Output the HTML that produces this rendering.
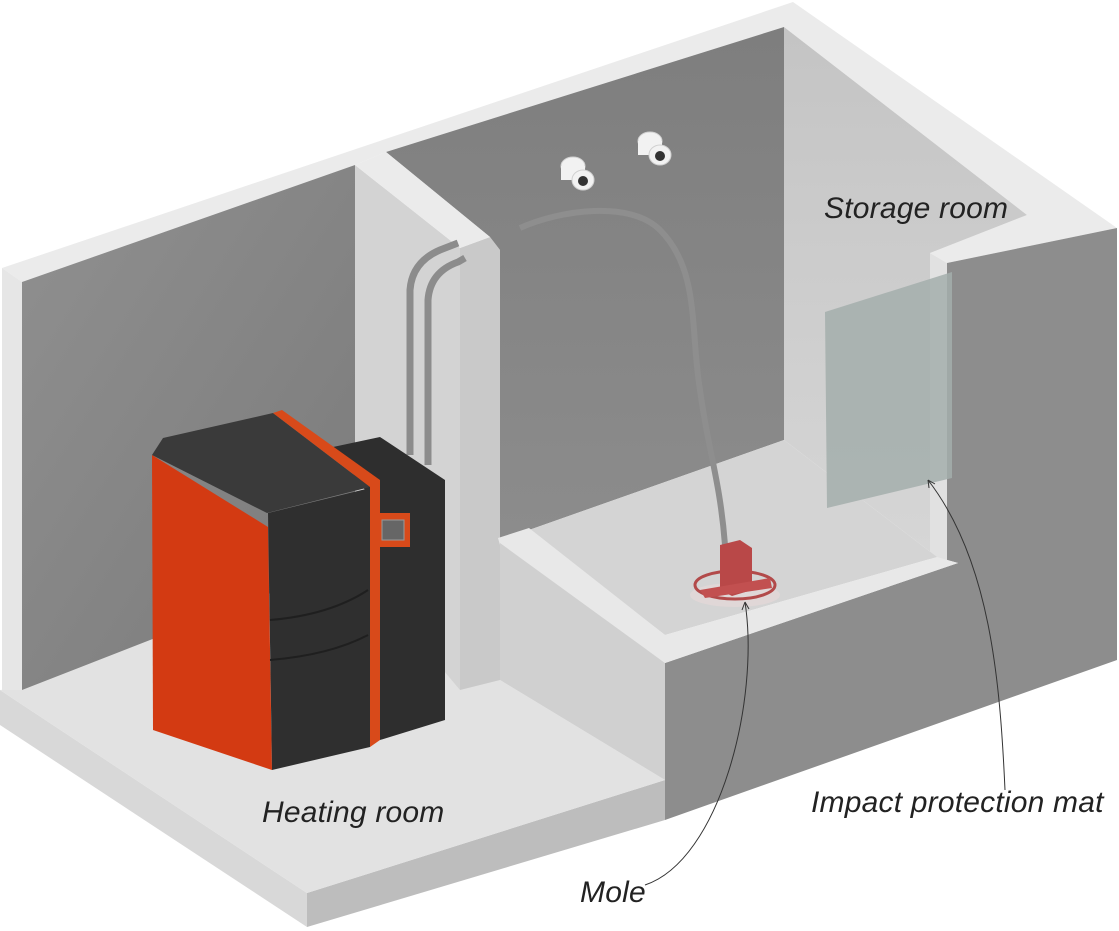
<!DOCTYPE html>
<html><head><meta charset="utf-8"><style>
html,body{margin:0;padding:0;background:#fff;width:1119px;height:931px;overflow:hidden}
svg{display:block}
text{font-family:"Liberation Sans",sans-serif;font-style:italic;fill:#222;font-size:30px;letter-spacing:0.2px}
</style></head><body>
<svg width="1119" height="931" viewBox="0 0 1119 931" xmlns="http://www.w3.org/2000/svg">
<defs>
<linearGradient id="dk" x1="0" y1="0" x2="1" y2="1"><stop offset="0" stop-color="#909090"/><stop offset="1" stop-color="#7a7a7a"/></linearGradient>
<linearGradient id="dk2" x1="0" y1="0" x2="0" y2="1"><stop offset="0" stop-color="#7e7e7e"/><stop offset="1" stop-color="#8c8c8c"/></linearGradient>
<linearGradient id="lt" x1="0" y1="0" x2="0" y2="1"><stop offset="0" stop-color="#c4c4c4"/><stop offset="1" stop-color="#d6d6d6"/></linearGradient>
</defs>
<!-- rim background -->
<polygon points="2,268 793,2 1117,228 947,263 930,253 1027,215 784,27 386,152 355,165 22,282" fill="#ebebeb"/>
<!-- base slab -->
<polygon points="0,690 307,893 307,927 0,725" fill="#d8d8d8"/>
<polygon points="307,893 665,780 665,820 307,927" fill="#bdbdbd"/>
<!-- right outer wall face -->
<polygon points="947,263 1117,228 1117,660 665,820 665,663 958,563 947,560" fill="#8d8d8d"/>
<!-- heating floor -->
<polygon points="0,690 22,688 355,560 500,680 665,780 307,893" fill="#e2e2e2"/>
<!-- left wall -->
<polygon points="2,268 22,282 22,690 2,690" fill="#e6e6e6"/>
<polygon points="22,282 355,165 355,560 22,690" fill="url(#dk)"/>
<!-- partition -->
<polygon points="355,165 460,248 460,690 355,565" fill="#d3d3d3"/>
<polygon points="460,248 490,237 500,250 500,680 460,690" fill="#c9c9c9"/>
<!-- storage back wall -->
<polygon points="386,152 784,27 784,440 529,530 500,540 500,250 490,237" fill="url(#dk2)"/>
<!-- partition top -->
<polygon points="355,165 386,152 490,237 460,248" fill="#ebebeb"/>
<!-- right storage inner wall -->
<polygon points="784,27 1027,215 930,253 930,557 937,557 784,440" fill="url(#lt)"/>
<polygon points="930,253 947,263 947,560 930,560" fill="#e1e1e1"/>
<!-- storage floor -->
<polygon points="529,530 784,440 937,557 665,635" fill="#d4d4d4"/>
<!-- low wall -->
<polygon points="498,538 529,528 665,635 937,557 958,563 665,663 500,545" fill="#e8e8e8"/>
<polygon points="500,543 665,663 665,780 500,680" fill="#d0d0d0"/>
<!-- mat -->
<polygon points="825,312 952,272 952,478 827,508" fill="#a3aeab" opacity="0.85"/>
<!-- inlets -->
<g fill="#f2f2f2" stroke="#d0d0d0">
<ellipse cx="573" cy="166" rx="12" ry="9"/><rect x="561" y="166" width="24" height="14" stroke="none"/>
<ellipse cx="583" cy="180" rx="11" ry="10"/>
<ellipse cx="650" cy="141" rx="12" ry="9"/><rect x="638" y="141" width="24" height="14" stroke="none"/>
<ellipse cx="660" cy="155" rx="11" ry="10"/>
</g>
<circle cx="583" cy="181" r="5" fill="#333"/><circle cx="660" cy="156" r="5" fill="#333"/>
<!-- hose -->
<path d="M520,228 C560,210 630,200 660,230 C700,270 690,330 700,390 C708,450 720,480 725,545" fill="none" stroke="#8e8e8e" stroke-width="6"/>
<!-- mole -->
<ellipse cx="735" cy="595" rx="45" ry="12" fill="#e8d8d8" opacity="0.6"/>
<ellipse cx="735" cy="585" rx="40" ry="14" fill="none" stroke="#b24a4a" stroke-width="3"/>
<polygon points="720,545 740,540 752,548 752,590 732,596 720,590" fill="#b94848"/>
<polygon points="700,590 770,578 772,588 705,598" fill="#c25050"/>
<!-- pipes -->
<path d="M410,455 L410,290 Q412,262 440,250 L458,243" fill="none" stroke="#8c8c8c" stroke-width="7"/>
<path d="M428,465 L428,300 Q430,272 458,262 L465,258" fill="none" stroke="#8c8c8c" stroke-width="7"/>
<!-- boiler -->
<polygon points="333,447 380,437 445,480 445,720 380,740 380,510" fill="#2e2e2e"/>
<polygon points="152,455 268,527 272,770 153,730" fill="#d33a12"/>
<polygon points="163,438 273,413 370,487 267,513 152,455" fill="#3a3a3a"/>
<polygon points="268,513 370,488 370,747 272,770" fill="#2f2f2f"/>
<polygon points="273,413 282,410 380,480 380,740 370,747 370,487" fill="#d84a1a"/>
<rect x="373" y="513" width="37" height="34" fill="#d84a1a"/>
<rect x="382" y="520" width="22" height="20" fill="#666" stroke="#999"/>
<path d="M270,620 Q330,615 368,590 M270,660 Q330,655 368,635" stroke="#1f1f1f" stroke-width="2" fill="none"/>
<!-- labels -->
<text x="824" y="218">Storage room</text>
<text x="262" y="822">Heating room</text>
<text x="580" y="902">Mole</text>
<text x="811" y="812">Impact protection mat</text>
<path d="M745,602 C760,700 720,860 645,885" fill="none" stroke="#333" stroke-width="1"/>
<path d="M928,480 C990,560 1000,680 1005,790" fill="none" stroke="#333" stroke-width="1"/>
<path d="M745,602 l-3,8 M745,602 l4,7" stroke="#333"/>
<path d="M928,480 l1,8 M928,480 l7,4" stroke="#333"/>
</svg>
</body></html>
